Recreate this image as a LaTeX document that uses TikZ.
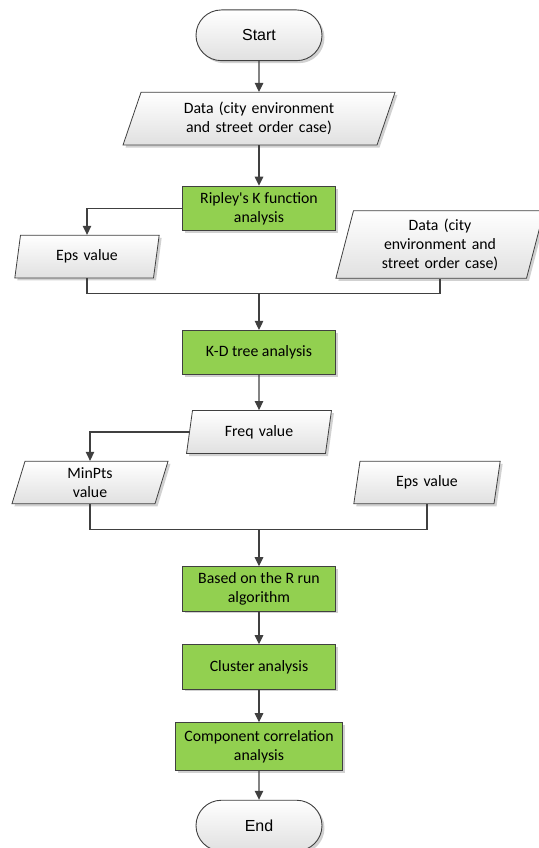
\documentclass[tikz,border=0pt]{standalone}
\usepackage{fontspec}
\setmainfont{Carlito}[Ligatures=TeXOff]
\newfontfamily\termfont{Liberation Sans}
\usepackage{tikz}
\usetikzlibrary{arrows.meta,shapes.geometric,shapes.misc,shadows}
\definecolor{procgreen}{RGB}{146,208,80}
\definecolor{linegray}{RGB}{64,64,64}
\tikzset{>={Triangle[length=9pt,width=8.5pt]}}
\tikzset{
	boxshadow/.style={drop shadow={shadow xshift=2.5pt,shadow yshift=-2.5pt,fill=black,opacity=0.18}},
	terminal/.style={rounded rectangle,draw=linegray,line width=0.9pt,top color=white,bottom color=black!12,
		minimum width=126pt,minimum height=50.7pt,inner sep=0pt,font=\termfont\fontsize{16}{19}\selectfont,boxshadow},
	process/.style={rectangle,draw=linegray,line width=0.9pt,fill=procgreen,minimum width=153.5pt,
		minimum height=44.3pt,inner sep=0pt,align=center,font=\fontsize{15.8}{19}\selectfont,boxshadow},
	datashape/.style={trapezium,trapezium stretches body,draw=linegray,line width=0.8pt,top color=white,
		bottom color=black!12,inner xsep=2pt,inner ysep=0pt,align=center,font=\fontsize{15.8}{19}\selectfont,boxshadow},
	flow/.style={draw=linegray,line width=1.1pt},
}

\begin{document}
\begin{tikzpicture}[x=1pt,y=-1pt]
	\useasboundingbox (0,0) rectangle (538,848);
	\node[terminal] (start) at (259,35.3) {Start};
	\node[datashape,trapezium left angle=61.2,trapezium right angle=118.8,text width=232pt,minimum height=52.7pt] (data) at (259,118.7) {Data (city environment\\and street order case)};
	\node[process] (ripley) at (259,208.3) {Ripley's K function\\analysis};
	\node[datashape,trapezium left angle=67.2,trapezium right angle=112.8,text width=129pt,minimum height=42.7pt] (epsA) at (87,256.6) {Eps value};
	\node[datashape,trapezium left angle=71.2,trapezium right angle=108.8,text width=169pt,minimum height=67.6pt] (dataB) at (440,244.5) {Data (city\\environment and\\street order case)};
	\coordinate (joinA) at (259,293.3);
	\node[process] (kdtree) at (259,352.5) {K-D tree analysis};
	\node[datashape,trapezium left angle=66.2,trapezium right angle=113.8,text width=129pt,minimum height=43pt] (freq) at (259,432) {Freq value};
	\node[datashape,trapezium left angle=66.5,trapezium right angle=113.5,text width=126pt,minimum height=42.5pt] (minpts) at (90,482.5) {MinPts\\value};
	\node[datashape,trapezium left angle=65.4,trapezium right angle=114.6,text width=130pt,minimum height=42.5pt] (epsB) at (427,482.5) {Eps value};
	\coordinate (joinB) at (259,529.3);
	\node[process] (rrun) at (259,588.8) {Based on the R run\\algorithm};
	\node[process] (cluster) at (259,666.8) {Cluster analysis};
	\node[process,minimum width=167.5pt,minimum height=47.7pt] (corr) at (259,746.5) {Component correlation\\analysis};
	\node[terminal] (end) at (259,825.6) {End};

	\draw[flow,->] (start) -- (data);
	\draw[flow,->] (data) -- (ripley);
	\draw[flow,->] (ripley.west) -| (epsA.north);
	\draw[flow] (epsA.south) |- (joinA) -| (dataB.south);
	\draw[flow,->] (joinA) -- (kdtree.north);
	\draw[flow,->] (kdtree) -- (freq);
	\draw[flow,->] (freq.left side) -| (minpts.north);
	\draw[flow] (minpts.south) |- (joinB) -| (epsB.south);
	\draw[flow,->] (joinB) -- (rrun.north);
	\draw[flow,->] (rrun) -- (cluster);
	\draw[flow,->] (cluster) -- (corr);
	\draw[flow,->] (corr) -- (end);
\end{tikzpicture}
\end{document}
